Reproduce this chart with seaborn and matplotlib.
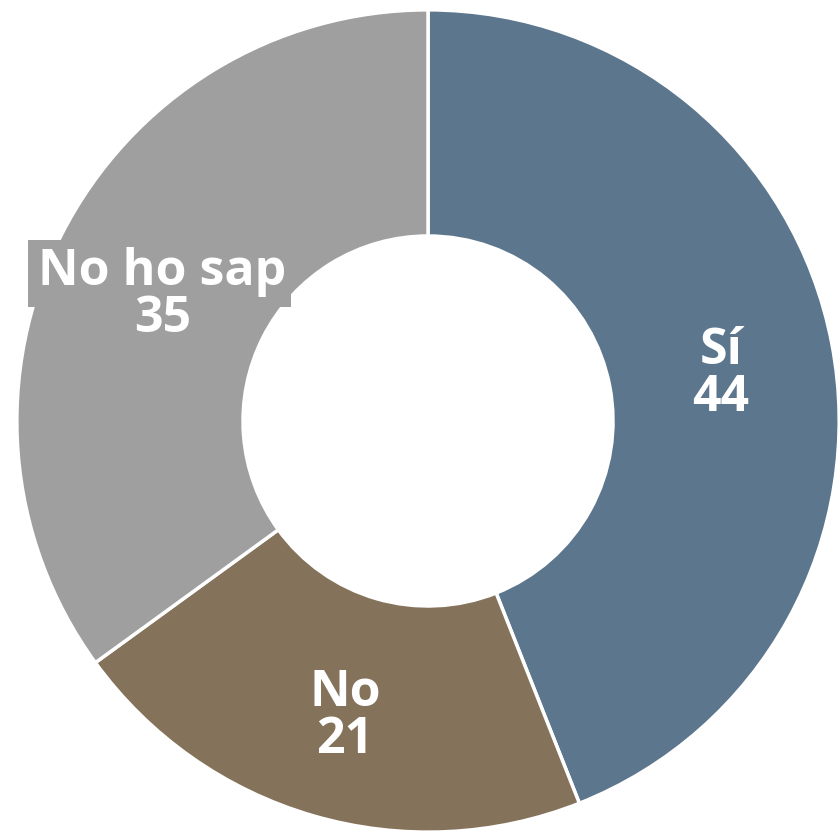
import matplotlib
matplotlib.use("Agg")
import matplotlib.pyplot as plt
from matplotlib.patches import Rectangle
from matplotlib.font_manager import FontProperties
from matplotlib.transforms import IdentityTransform
import seaborn as sns
import numpy as np

categories = ["Sí", "No", "No ho sap"]
values = [44, 21, 35]
colors = ["#5b768d", "#84725a", "#9f9f9f"]

sns.set_theme(style="white")
plt.rcParams["font.family"] = ["Open Sans", "DejaVu Sans"]

fig = plt.figure(figsize=(8.4, 8.35), dpi=100)
ax = fig.add_axes([0, 0, 1, 1])

wedges, _ = ax.pie(
    values,
    colors=colors,
    startangle=90,
    counterclock=False,
    radius=1.0,
    wedgeprops=dict(width=0.55, edgecolor="white", linewidth=2.5),
)

ax.set_xlim(-1.041, 1.002)
ax.set_ylim(-1.007, 1.024)
ax.set_aspect("auto")
ax.axis("off")

fontsize = 36
linespacing = 0.92
fp = FontProperties(family=["Open Sans", "DejaVu Sans"], weight="bold", size=fontsize)
renderer = fig.canvas.get_renderer()
_, lp_h, lp_d = renderer.get_text_width_height_descent("lp", fp, ismath=False)
line_step = (lp_h - lp_d) * linespacing

label_r = 0.725
last_baseline_pt = -33
for w, cat, val in zip(wedges, categories, values):
    mid = np.deg2rad((w.theta1 + w.theta2) / 2)
    x, y = label_r * np.cos(mid), label_r * np.sin(mid)
    ax.annotate(f"{cat}\n{val}", (x, y), xytext=(0, last_baseline_pt),
                textcoords="offset points", ha="center", va="baseline",
                color="white", fontproperties=fp, linespacing=linespacing,
                zorder=3)
    if cat == "No ho sap":
        # backdrop behind the first line so it stays legible past the ring edge
        tw, th, td = renderer.get_text_width_height_descent(cat, fp, ismath=False)
        px, py = ax.transData.transform((x, y))
        base = py + last_baseline_pt * fig.dpi / 72 + line_step
        pad_l, pad_r = 10, 4
        ax.add_patch(Rectangle((px - tw / 2 - pad_l, base - td + 2),
                               tw + pad_l + pad_r, th + td + 5,
                               transform=IdentityTransform(),
                               facecolor=w.get_facecolor(), edgecolor="none",
                               zorder=2))

fig.savefig("out.png", dpi=100, facecolor="white")
